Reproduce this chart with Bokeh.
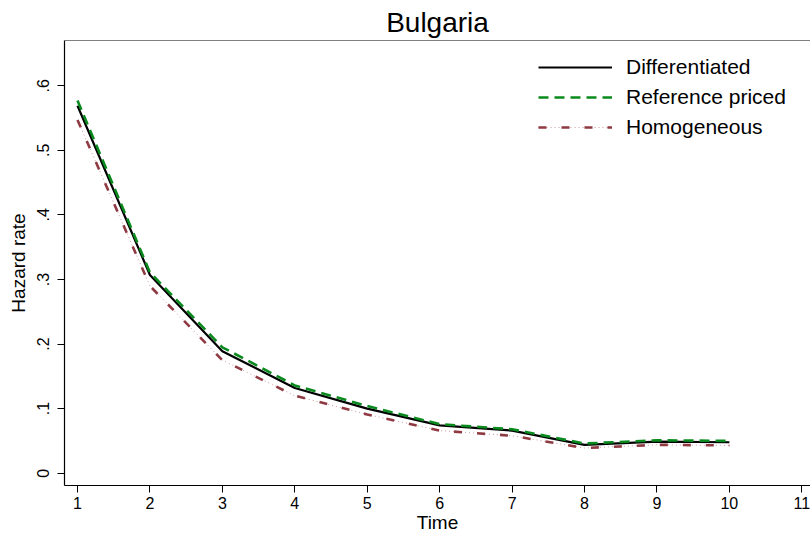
from bokeh.plotting import figure
from bokeh.models import (Range1d, FixedTicker, CustomJSTickFormatter, Span,
                          Legend, LegendItem, ColumnDataSource)
from bokeh.embed import file_html
from bokeh.resources import INLINE

# ---- data ----
time = [1, 2, 3, 4, 5, 6, 7, 8, 9, 10]
differentiated = [0.569, 0.307, 0.189, 0.132, 0.100, 0.074, 0.066, 0.044, 0.049, 0.048]
reference_priced = [0.577, 0.311, 0.195, 0.136, 0.104, 0.076, 0.068, 0.046, 0.051, 0.050]
homogeneous = [0.547, 0.290, 0.175, 0.120, 0.091, 0.066, 0.058, 0.039, 0.044, 0.043]
x_ticks = [1, 2, 3, 4, 5, 6, 7, 8, 9, 10, 11]
y_ticks = [0, 0.1, 0.2, 0.3, 0.4, 0.5, 0.6]

FONT = "Liberation Sans"

src = ColumnDataSource(dict(t=time, d=differentiated, r=reference_priced, h=homogeneous))

p = figure(width=810, height=535, output_backend="svg", toolbar_location=None,
           x_range=Range1d(0.8205, 11.12), y_range=Range1d(-0.019, 0.670),
           min_border_left=64, min_border_right=0, min_border_top=40,
           min_border_bottom=50)

p.title.text = "Bulgaria"
p.title.align = "center"
p.title.text_font = FONT
p.title.text_font_size = "28px"
p.title.text_font_style = "normal"
p.title.text_color = "black"
p.title.standoff = 6

p.outline_line_color = None
p.grid.visible = False
p.background_fill_color = "white"
p.border_fill_color = "white"

top_line = Span(location=0.670, dimension="width", line_color="black", line_width=1.2)
p.add_layout(top_line)

# axes
for ax in (p.xaxis[0], p.yaxis[0]):
    ax.axis_line_color = "black"
    ax.axis_line_width = 1.2
    ax.major_tick_line_color = "black"
    ax.major_tick_out = 7
    ax.major_tick_in = 0
    ax.minor_tick_line_color = None
    ax.major_label_text_font = FONT
    ax.major_label_text_font_size = "16px"
    ax.major_label_text_color = "black"
    ax.axis_label_text_font = FONT
    ax.axis_label_text_font_size = "19px"
    ax.axis_label_text_font_style = "normal"
    ax.axis_label_text_color = "black"

p.xaxis.ticker = FixedTicker(ticks=x_ticks)
p.xaxis.axis_label = "Time"
p.xaxis.major_label_standoff = 4
p.xaxis.axis_label_standoff = 0

p.yaxis.ticker = FixedTicker(ticks=y_ticks)
p.yaxis.formatter = CustomJSTickFormatter(
    code="if (Math.abs(tick) < 1e-9) return '0'; return tick.toFixed(1).replace(/^0/, '');")
p.yaxis.major_label_orientation = "vertical"
p.yaxis.axis_label = "Hazard rate"
p.yaxis.major_label_standoff = 8
p.yaxis.axis_label_standoff = 6

# lines
r_d = p.line("t", "d", source=src, line_color="black", line_width=2.2)
r_r = p.line("t", "r", source=src, line_color="#0a8a1e", line_width=2.6, line_dash="10 6")
r_h1 = p.line("t", "h", source=src, line_color="#c9999e", line_width=1.0, line_dash="1 3")
r_h2 = p.line("t", "h", source=src, line_color="#8f3a42", line_width=2.6, line_dash="8 15")

legend = Legend(items=[
    LegendItem(label="Differentiated", renderers=[r_d]),
    LegendItem(label="Reference priced", renderers=[r_r]),
    LegendItem(label="Homogeneous", renderers=[r_h1, r_h2]),
], location=(474, 346))
legend.label_text_font = FONT
legend.label_text_font_size = "21px"
legend.label_text_color = "black"
legend.glyph_width = 74
legend.glyph_height = 24
legend.label_height = 24
legend.spacing = 6
legend.label_standoff = 14
legend.padding = 0
legend.margin = 0
legend.border_line_color = None
legend.background_fill_alpha = 0
p.add_layout(legend, "center")

open("out.html", "w").write(file_html(p, INLINE))
